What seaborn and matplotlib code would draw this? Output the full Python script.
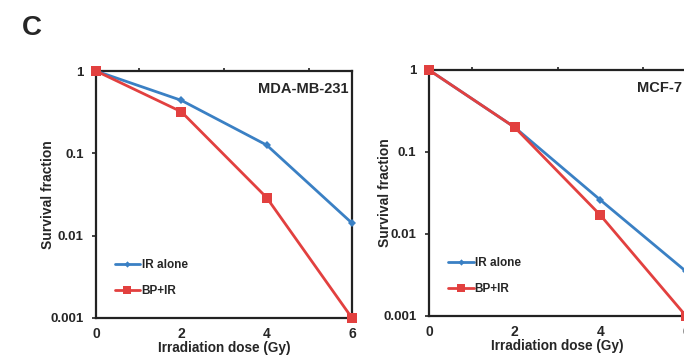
import numpy as np
import pandas as pd
import seaborn as sns
import matplotlib.pyplot as plt
from matplotlib.ticker import FixedLocator, FixedFormatter

dose = [0, 2, 4, 6]
mda_ir = [1.0, 0.44, 0.126, 0.0142]
mda_bp = [1.0, 0.32, 0.029, 0.001]
mcf_ir = [1.0, 0.20, 0.026, 0.0035]
mcf_bp = [1.0, 0.20, 0.017, 0.001]
series = ["IR alone", "BP+IR"]
cells = ["MDA-MB-231", "MCF-7"]

rows = []
for cell, ir, bp in [(cells[0], mda_ir, mda_bp), (cells[1], mcf_ir, mcf_bp)]:
    for d, a, b in zip(dose, ir, bp):
        rows.append((cell, series[0], d, a))
        rows.append((cell, series[1], d, b))
df = pd.DataFrame(rows, columns=["cell", "group", "dose", "survival"])

sns.set_style("white")
plt.rcParams["font.family"] = ["Liberation Sans", "DejaVu Sans"]
plt.rcParams["font.weight"] = "bold"

palette = {"IR alone": "#3a80c4", "BP+IR": "#e2403f"}
markers = {"IR alone": "D", "BP+IR": "s"}
msize = {"IR alone": 4, "BP+IR": 7}

W, H = 684, 358
fig = plt.figure(figsize=(W / 100, H / 100), dpi=100)
boxes = [(96, 352, 71, 318), (429, 686, 70, 316)]
ylab_x = [55, 392]

for cell, (x0, x1, yt, yb), lx in zip(cells, boxes, ylab_x):
    ax = fig.add_axes([x0 / W, (H - yb) / H, (x1 - x0) / W, (yb - yt) / H])
    sub = df[df["cell"] == cell]
    for g in series:
        s = sub[sub["group"] == g]
        sns.lineplot(data=s, x="dose", y="survival", ax=ax, color=palette[g],
                     marker=markers[g], markersize=msize[g], markeredgewidth=0,
                     linewidth=2, label=g, clip_on=False, zorder=3)
    ax.set_yscale("log")
    ax.set_xlim(0, 6)
    ax.set_ylim(0.001, 1)
    ax.yaxis.set_major_locator(FixedLocator([0.001, 0.01, 0.1, 1]))
    ax.yaxis.set_major_formatter(FixedFormatter(["0.001", "0.01", "0.1", "1"]))
    ax.yaxis.set_minor_locator(FixedLocator([]))
    ax.set_xticks(dose)
    ax.set_xticklabels([str(d) for d in dose])
    ax.tick_params(axis="x", which="major", bottom=False, top=False, pad=3, labelsize=10)
    ax.xaxis.set_minor_locator(FixedLocator([1, 2, 3, 4, 5]))
    ax.tick_params(axis="x", which="minor", bottom=False, top=True, direction="out",
                   length=2.5, width=1.2, color="#222222")
    ax.tick_params(axis="y", left=True, direction="out", length=3, width=1.2,
                   color="#222222", labelsize=9.5, pad=6)
    for sp in ax.spines.values():
        sp.set_linewidth(1.6)
        sp.set_color("#222222")
    ax.set_xlabel("Irradiation dose (Gy)", fontsize=9.8, fontweight="bold", labelpad=0)
    ax.set_ylabel("Survival fraction", fontsize=10, fontweight="bold")
    ax.yaxis.set_label_coords((lx - x0) / (x1 - x0), 0.5)
    ax.text(0.985, 0.955, cell, transform=ax.transAxes, ha="right", va="top",
            fontsize=10.5, fontweight="bold")
    ax.legend(loc="lower left", bbox_to_anchor=(0.04, 0.05), frameon=False,
              fontsize=8.5, handlelength=2.2, handletextpad=0.1, labelspacing=1.2,
              borderaxespad=0.3, markerscale=0.8)

fig.text(22 / W, 1 - 28 / H, "C", fontsize=20, fontweight="bold", va="center", ha="left")

fig.savefig("out.png", dpi=100)
